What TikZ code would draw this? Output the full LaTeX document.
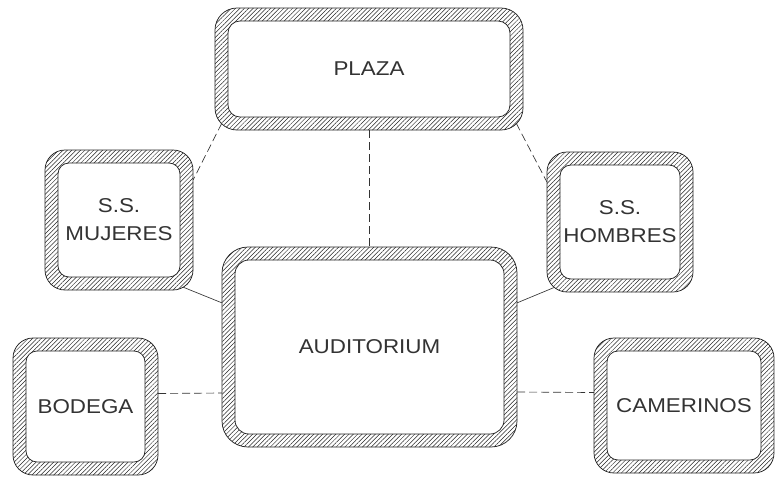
\documentclass[tikz,border=0pt]{standalone}
\usepackage{fontspec}
\newfontfamily\cadfont[FakeStretch=1.12]{Liberation Sans}
\usetikzlibrary{patterns.meta,calc}

\tikzset{
  hatch/.style={pattern={Lines[angle=45,distance=3.1pt,line width=0.5pt]}, pattern color=black!85},
  wallline/.style={draw=black!85, line width=0.75pt},
  lbl/.style={font=\cadfont\fontsize{20}{28}\selectfont, text=black!80, align=center, inner sep=0pt},
  link/.style={draw=black!80, line width=0.65pt},
  dlink/.style={link, dash pattern=on 8pt off 4pt},
}

% name, x1, y1, x2, y2, outer radius, inner radius, label
\newcommand\roomBox[8]{%
  \path[hatch, even odd rule] [rounded corners=#6pt] (#2,#3) rectangle (#4,#5)
        [rounded corners=#7pt] (#2+13,#3+13) rectangle (#4-13,#5-13);
  \draw[wallline, rounded corners=#6pt] (#2,#3) rectangle (#4,#5);
  \draw[wallline, rounded corners=#7pt] (#2+13,#3+13) rectangle (#4-13,#5-13);
  \node[lbl, minimum width={#4-#2}, minimum height={#5-#3}] (#1) at ({(#2+#4)/2},{(#3+#5)/2}) {#8};
}

\begin{document}
\begin{tikzpicture}[x=1pt,y=-1pt]
  \useasboundingbox (0,0) rectangle (775,485);
  \fill[white] (0,0) rectangle (775,485);

  \roomBox{plaza}{215}{8}{523}{130}{22}{12}{PLAZA}
  \roomBox{mujeres}{45}{150}{193}{290}{20}{11}{S.S.\\MUJERES}
  \roomBox{hombres}{547}{152}{693}{292}{20}{11}{S.S.\\HOMBRES}
  \roomBox{aud}{222}{247}{517}{447}{26}{14}{AUDITORIUM}
  \roomBox{bodega}{13}{338}{158}{475}{20}{11}{BODEGA}
  \roomBox{camer}{594}{338}{774}{473}{20}{11}{CAMERINOS}

  % connectors
  \draw[dlink] ($(plaza.south west)+(7,-7)$) -- ($(mujeres.north east)+(0,30)$);
  \draw[dlink] ($(plaza.south east)+(-7,-7)$) -- ($(hombres.north west)+(0,30)$);
  \draw[dlink] (plaza.south) -- (plaza.south |- aud.north);
  \draw[link] ($(mujeres.south east)+(-10,-3)$) -- ($(aud.north west)+(0,56)$);
  \draw[link] ($(hombres.south west)+(8,-5)$) -- ($(aud.north east)+(0,56)$);
  \draw[dlink] ($(bodega.east)+(0,-13)$) -- ($(aud.west)+(0,46)$);
  \draw[dlink] ($(aud.east)+(0,45)$) -- ($(camer.west)+(0,-13)$);
\end{tikzpicture}
\end{document}
